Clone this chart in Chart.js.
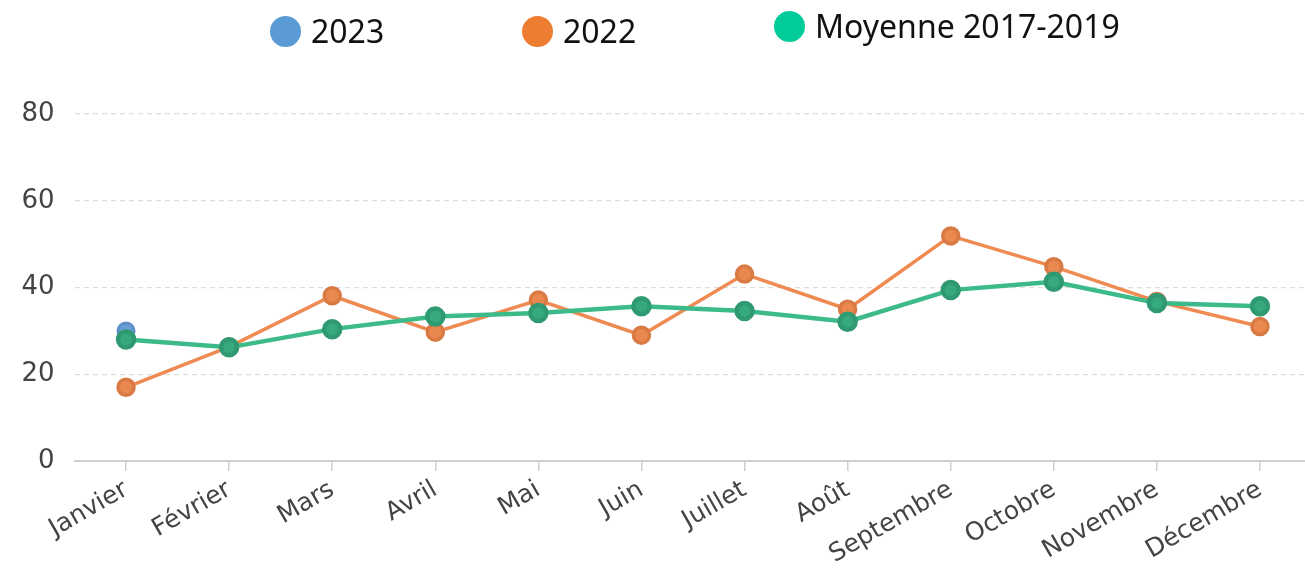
<!DOCTYPE html>
<html lang="fr">
<head>
<meta charset="utf-8">
<title>Moyenne 2017-2019</title>
<script src="https://cdn.jsdelivr.net/npm/chart.js@4.4.1/dist/chart.umd.min.js"></script>
<style>
  html, body { margin: 0; padding: 0; background: #fff; overflow: hidden; }
  #wrap { position: relative; width: 1305px; height: 574px; overflow: hidden; }
  #legend {
    position: absolute; top: 14px; left: 270px;
    display: flex; font-family: "Noto Sans", sans-serif; font-size: 32px; color: #111;
    white-space: nowrap;
  }
  #legend .item { width: 252px; height: 34px; display: flex; align-items: center; }
  #legend .item:last-child { margin-top: -5px; width: auto; }
  #legend .dot { width: 31px; height: 31px; border-radius: 50%; margin-right: 10px; flex: none; }
  #legend span { line-height: 34px; }
</style>
</head>
<body>
<div id="wrap">
  <div id="legend"></div>
  <canvas id="myChart" width="1324" height="574"></canvas>
</div>
<script>
// Data
const months = ['Janvier', 'Février', 'Mars', 'Avril', 'Mai', 'Juin', 'Juillet', 'Août', 'Septembre', 'Octobre', 'Novembre', 'Décembre'];
const values2023 = [30];
const values2022 = [17, 26.3, 38.1, 29.7, 37.1, 29, 43.1, 35, 51.9, 44.8, 36.8, 31];
const moyenne2017_2019 = [28, 26.2, 30.4, 33.3, 34.1, 35.7, 34.6, 32.1, 39.4, 41.3, 36.4, 35.7];
const yMin = 0, yMax = 80, yStep = 20;

const legendColors = ['#5B9BD5', '#ED7D31', '#00CC99'];

const ctx = document.getElementById('myChart').getContext('2d');
const myChart = new Chart(ctx, {
  type: 'line',
  data: {
    labels: months,
    datasets: [
      {
        label: '2023',
        data: values2023,
        borderColor: '#6A9FD8',
        backgroundColor: '#6A9FD8',
        pointBorderColor: '#5E8FC6',
        borderWidth: 3,
        pointRadius: 8,
        order: 2
      },
      {
        label: '2022',
        data: values2022,
        borderColor: '#EE8A52',
        backgroundColor: '#EA8850',
        pointBorderColor: '#D97A45',
        borderWidth: 3.5,
        pointRadius: 8,
        order: 1
      },
      {
        label: 'Moyenne 2017-2019',
        data: moyenne2017_2019,
        borderColor: '#3DBA8A',
        backgroundColor: '#37A97E',
        pointBorderColor: '#2F9A72',
        borderWidth: 4.5,
        pointRadius: 8,
        order: 0
      }
    ]
  },
  options: {
    responsive: false,
    animation: false,
    layout: { padding: { top: 114, right: 0, bottom: 0, left: 0 } },
    plugins: {
      legend: { display: false },
      tooltip: { enabled: false }
    },
    elements: {
      line: { tension: 0 },
      point: { borderWidth: 1 }
    },
    scales: {
      x: {
        offset: true,
        border: { display: true, color: '#CFCFCF', width: 2 },
        grid: { drawOnChartArea: false, drawTicks: true, tickLength: 10, color: '#CFCFCF', lineWidth: 1.5 },
        ticks: {
          color: '#444',
          font: { family: 'DejaVu Sans', size: 25 },
          minRotation: 30,
          maxRotation: 30,
          autoSkip: false,
          padding: 4
        },
        afterFit: (scale) => { scale.height = 113; }
      },
      y: {
        min: yMin,
        max: yMax,
        border: { display: false, dash: [5, 4] },
        grid: { color: '#DDDDDD', lineWidth: 1.2, drawTicks: false },
        ticks: {
          stepSize: yStep,
          color: '#444',
          padding: 20,
          font: { family: 'DejaVu Sans', size: 26 }
        },
        afterFit: (scale) => { scale.width = 74.5; }
      }
    }
  }
});

// Legend
const legendEl = document.getElementById('legend');
myChart.data.datasets.forEach((ds, i) => {
  const item = document.createElement('div');
  item.className = 'item';
  item.innerHTML = '<div class="dot" style="background:' + legendColors[i] + '"></div><span>' + ds.label + '</span>';
  legendEl.appendChild(item);
});
</script>
</body>
</html>
